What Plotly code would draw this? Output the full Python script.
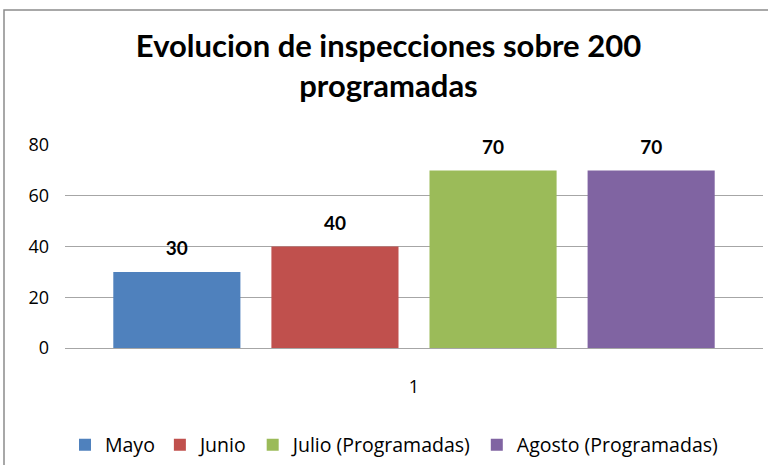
import plotly.graph_objects as go

categories = ["1"]
series_names = ["Mayo", "Junio", "Julio (Programadas)", "Agosto (Programadas)"]
series_values = [[30], [40], [70], [70]]
colors = ["#4F81BD", "#C0504D", "#9BBB59", "#8064A2"]
y_ticks = [0, 20, 40, 60, 80]

W, H = 768, 465
ML, MR, MT, MB = 65, 5, 145, 117

fig = go.Figure()
for name, vals, col in zip(series_names, series_values, colors):
    fig.add_trace(go.Bar(
        x=categories, y=vals, name=name, marker=dict(color=col, line=dict(width=0)),
        text=["<span style='font-size:19px'>%d</span><br>&nbsp;" % v for v in vals],
        textposition="outside",
        textfont=dict(family="Lato", size=9, color="#000000", weight="bold"),
        cliponaxis=False, constraintext="none",
    ))

pw = W - ML - MR
ph = H - MT - MB
# chart border (paper coords)
fig.add_shape(type="rect", xref="paper", yref="paper",
              x0=(4 - ML) / pw, x1=(W + 10 - ML) / pw,
              y0=-(MB + 10) / ph, y1=(H - MB - 10) / ph,
              line=dict(color="#8C8C8C", width=1.5), fillcolor="rgba(0,0,0,0)", layer="below")

fig.update_layout(
    width=W, height=H,
    margin=dict(l=ML, r=MR, t=MT, b=MB, autoexpand=False),
    paper_bgcolor="white", plot_bgcolor="white",
    barmode="group", bargap=0.094, bargroupgap=0.196,
    title=dict(text="Evolucion de inspecciones sobre 200<br>programadas",
               x=388.5 / W, xanchor="center", y=1 - 57 / H, yanchor="middle",
               font=dict(family="Lato", size=31, color="#000000", weight="bold")),
    font=dict(family="Open Sans", size=19.5, color="#000000"),
    showlegend=True,
    legend=dict(orientation="h", x=(394 - ML) / pw, xanchor="center", y=-(445 - (H - MB)) / ph,
                yanchor="middle", font=dict(family="Open Sans", size=19.5, color="#000000"),
                traceorder="normal"),
    yaxis=dict(range=[0, 80], tickvals=y_ticks, showgrid=True, gridcolor="#A6A6A6", gridwidth=1,
               zeroline=False, showline=False, ticks="", ticklabelstandoff=15,
               tickfont=dict(family="Open Sans", size=18)),
    xaxis=dict(type="category", showline=True, linecolor="#A6A6A6", linewidth=1,
               ticks="", ticklabelstandoff=22, tickfont=dict(family="Open Sans", size=18)),
)

fig.write_html("out.html", config={"displayModeBar": False},
               post_script="document.body.style.margin='0px';")
